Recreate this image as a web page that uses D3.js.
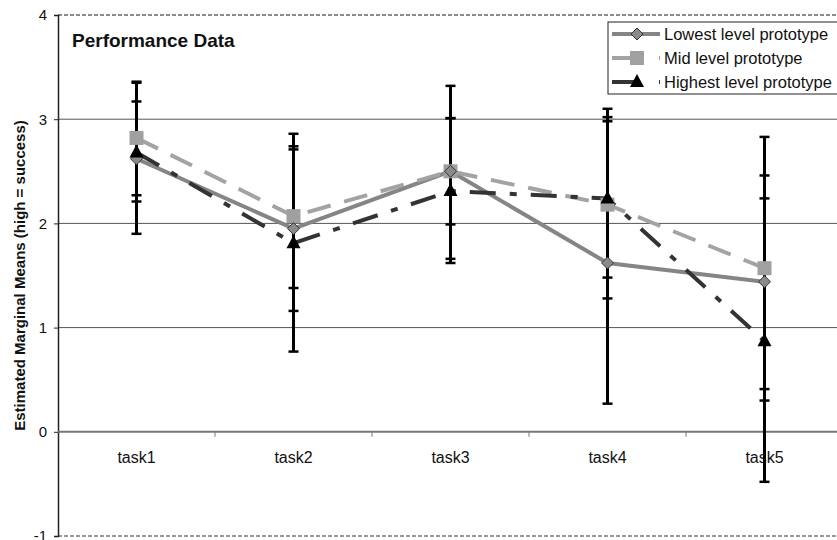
<!DOCTYPE html>
<html>
<head>
<meta charset="utf-8">
<script src="https://cdn.jsdelivr.net/npm/d3@7"></script>
<style>
  body { margin: 0; background: #fff; }
  svg { display: block; font-family: Arial, "Liberation Sans", sans-serif; }
</style>
</head>
<body>
<svg class="chart"></svg>
<script>
const width = 837, height = 540;

const tasks = ["task1", "task2", "task3", "task4", "task5"];
const seriesNames = ["Lowest level prototype", "Mid level prototype", "Highest level prototype"];

// means
const lowest  = [2.62, 1.95, 2.50, 1.62, 1.44];
const mid     = [2.82, 2.07, 2.50, 2.18, 1.57];
const highest = [2.68, 1.81, 2.31, 2.24, 0.87];

// error bar ends [low, high]
const lowestErr  = [[1.90, 3.35], [1.16, 2.71], [1.66, 3.32], [0.27, 2.98], [0.41, 2.46]];
const midErr     = [[2.27, 3.36], [1.38, 2.74], [1.99, 3.01], [1.28, 3.10], [0.30, 2.83]];
const highestErr = [[2.21, 3.17], [0.77, 2.86], [1.62, 3.01], [1.48, 3.02], [-0.48, 2.24]];

const yTicks = [-1, 0, 1, 2, 3, 4];

const series = [
  {name: seriesNames[0], values: lowest, err: lowestErr, color: "#858585", dash: null, marker: "diamond"},
  {name: seriesNames[1], values: mid, err: midErr, color: "#a3a3a3", dash: "24,14", marker: "square"},
  {name: seriesNames[2], values: highest, err: highestErr, color: "#333333", dash: "26,14,7,14", marker: "triangle"}
];

const margin = {left: 58, top: 15, bottom: 4};

const x = d3.scaleBand().domain(tasks).range([margin.left, margin.left + 157 * tasks.length]);
const y = d3.scaleLinear().domain([-1, 4]).range([height - margin.bottom, margin.top]);

const svg = d3.select(".chart").attr("width", width).attr("height", height);

const cx = d => x(d) + x.bandwidth() / 2;

// gridlines
svg.append("g")
  .selectAll("line")
  .data([1, 2, 3])
  .enter().append("line")
    .attr("x1", margin.left).attr("x2", width)
    .attr("y1", d => y(d)).attr("y2", d => y(d))
    .attr("stroke", "#555").attr("stroke-width", 1);

// dashed frame top/bottom
svg.append("line")
  .attr("x1", margin.left).attr("x2", width)
  .attr("y1", y(4)).attr("y2", y(4))
  .attr("stroke", "#666").attr("stroke-width", 1.5).attr("stroke-dasharray", "4,2");
svg.append("line")
  .attr("x1", margin.left).attr("x2", width)
  .attr("y1", y(-1)).attr("y2", y(-1))
  .attr("stroke", "#777").attr("stroke-width", 1.5).attr("stroke-dasharray", "4,2");

// y axis
const yAxis = svg.append("g")
  .attr("transform", `translate(${margin.left},0)`)
  .call(d3.axisLeft(y).tickValues(yTicks).tickSize(4).tickFormat(d => d < 0 ? "-" + Math.abs(d) : d));
yAxis.select(".domain").attr("stroke", "#222").attr("stroke-width", 1.5);
yAxis.selectAll(".tick line").attr("stroke", "#222");
yAxis.selectAll("text")
  .attr("font-size", 15).attr("fill", "#111")
  .attr("font-family", "Arial, 'Liberation Sans', sans-serif")
  .attr("x", -11);

// category axis on zero
const xAxis = svg.append("g")
  .attr("transform", `translate(0,${y(0)})`);
xAxis.append("line")
  .attr("x1", margin.left).attr("x2", width)
  .attr("stroke", "#777").attr("stroke-width", 2);
xAxis.selectAll(".tk")
  .data(tasks.slice(1))
  .enter().append("line")
    .attr("class", "tk")
    .attr("x1", d => x(d)).attr("x2", d => x(d))
    .attr("y1", 0).attr("y2", 5)
    .attr("stroke", "#777").attr("stroke-width", 1);
xAxis.selectAll("text")
  .data(tasks)
  .enter().append("text")
    .attr("x", cx)
    .attr("y", 31)
    .attr("text-anchor", "middle")
    .attr("font-size", 16)
    .attr("fill", "#111")
    .text(d => d);

// y title
svg.append("text")
  .attr("transform", `translate(25,${(y(4) + y(-1)) / 2}) rotate(-90)`)
  .attr("text-anchor", "middle")
  .attr("font-size", 15)
  .attr("font-weight", "bold")
  .attr("fill", "#111")
  .text("Estimated Marginal Means (high = success)");

// lines
const line = d3.line().x((d, i) => cx(tasks[i])).y(d => y(d));
svg.append("g")
  .selectAll("path")
  .data(series)
  .enter().append("path")
    .attr("d", d => line(d.values))
    .attr("fill", "none")
    .attr("stroke", d => d.color)
    .attr("stroke-width", 4)
    .attr("stroke-dasharray", d => d.dash);

// error bars
const errG = svg.append("g");
series.forEach(s => {
  const g = errG.append("g");
  g.selectAll("line.bar")
    .data(tasks)
    .enter().append("line")
      .attr("class", "bar")
      .attr("x1", cx).attr("x2", cx)
      .attr("y1", (d, i) => y(s.err[i][0]))
      .attr("y2", (d, i) => y(s.err[i][1]))
      .attr("stroke", "#000").attr("stroke-width", 3);
  [0, 1].forEach(k => {
    g.selectAll("line.cap" + k)
      .data(tasks)
      .enter().append("line")
        .attr("class", "cap" + k)
        .attr("x1", d => cx(d) - 5).attr("x2", d => cx(d) + 5)
        .attr("y1", (d, i) => y(s.err[i][k]))
        .attr("y2", (d, i) => y(s.err[i][k]))
        .attr("stroke", "#000").attr("stroke-width", 2.5);
  });
});

// markers
const drawMarker = (sel, s) => {
  if (s.marker === "diamond") {
    sel.append("path")
      .attr("d", "M0,-6L6,0L0,6L-6,0Z")
      .attr("fill", "#8a8a8a").attr("stroke", "#333").attr("stroke-width", 1);
  } else if (s.marker === "square") {
    sel.append("rect")
      .attr("x", -7).attr("y", -7).attr("width", 14).attr("height", 14)
      .attr("fill", "#a0a0a0");
  } else {
    sel.append("path")
      .attr("d", "M0,-8L7,5L-7,5Z")
      .attr("fill", "#000");
  }
};

// mid first, then lowest, then highest on top
[series[1], series[0], series[2]].forEach(s => {
  svg.append("g")
    .selectAll("g")
    .data(s.values)
    .enter().append("g")
      .attr("transform", (d, i) => `translate(${cx(tasks[i])},${y(d)})`)
      .each(function() { drawMarker(d3.select(this), s); });
});

// title
svg.append("text")
  .attr("x", 72).attr("y", 47)
  .attr("font-size", 19).attr("font-weight", "bold")
  .attr("fill", "#111")
  .text("Performance Data");

// legend
const legend = svg.append("g").attr("transform", "translate(608,22)");
legend.append("rect")
  .attr("x", 0).attr("y", 0).attr("width", 240).attr("height", 72)
  .attr("fill", "#fff").attr("stroke", "#222").attr("stroke-width", 1);
series.forEach((s, i) => {
  const row = legend.append("g").attr("transform", `translate(0,${12 + i * 24})`);
  row.append("line")
    .attr("x1", 4).attr("x2", 52)
    .attr("stroke", s.color).attr("stroke-width", 4)
    .attr("stroke-dasharray", s.dash ? "26,21,1,50" : null);
  const m = row.append("g").attr("transform", "translate(29,0)");
  drawMarker(m, s);
  row.append("text")
    .attr("x", 56).attr("y", 6)
    .attr("font-size", 16.5).attr("fill", "#111")
    .text(s.name);
});
</script>
</body>
</html>
